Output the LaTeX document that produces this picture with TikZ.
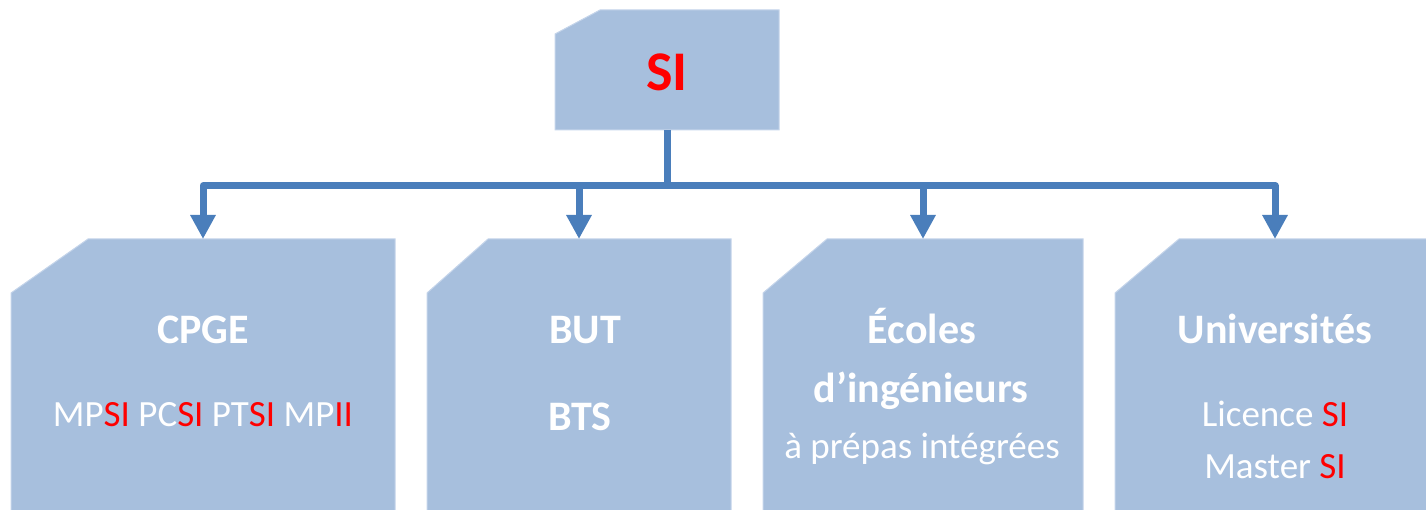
\documentclass[tikz,border=0pt]{standalone}
\usepackage{fontspec}
\setmainfont{Carlito}
\usetikzlibrary{arrows.meta}
\definecolor{boxfill}{HTML}{A7BFDD}
\definecolor{boxedge}{HTML}{C4D4EA}
\definecolor{connblue}{HTML}{4A7EBB}
\definecolor{sired}{HTML}{FF0000}
\newcommand\rd[1]{\textcolor{sired}{#1}}
\tikzset{
  frame/.style={inner sep=0pt, outer sep=0pt, anchor=north west},
  shade box/.style={fill=boxfill, draw=boxedge, line width=1pt},
  title/.style={font=\fontsize{42}{48}\selectfont\bfseries, text=white, anchor=base, inner sep=0pt},
  sub/.style={font=\fontsize{37}{42}\selectfont, text=white, anchor=base, inner sep=0pt},
  link/.style={draw=connblue, line width=7pt, line join=round},
  arrowlink/.style={link, -{Triangle[width=24pt,length=24pt]}},
}
\begin{document}
\begin{tikzpicture}[x=1pt,y=-1pt]
\useasboundingbox (0,0) rectangle (1426,510);
% frames
\node[frame, minimum width=224pt, minimum height=120pt] (si) at (555,10) {};
\node[frame, minimum width=384pt, minimum height=276pt] (b1) at (11,239) {};
\node[frame, minimum width=304pt, minimum height=276pt] (b2) at (427,239) {};
\node[frame, minimum width=320pt, minimum height=276pt] (b3) at (763,239) {};
\node[frame, minimum width=320pt, minimum height=276pt] (b4) at (1115,239) {};
% shapes with cut corner
\path[shade box] ([xshift=45pt]si.north west) -- (si.north east) -- (si.south east) -- (si.south west) -- ([yshift=-24pt]si.north west) -- cycle;
\path[shade box] ([xshift=77pt]b1.north west) -- (b1.north east) -- (b1.south east) -- (b1.south west) -- ([yshift=-54pt]b1.north west) -- cycle;
\path[shade box] ([xshift=61pt]b2.north west) -- (b2.north east) -- (b2.south east) -- (b2.south west) -- ([yshift=-54pt]b2.north west) -- cycle;
\path[shade box] ([xshift=64pt]b3.north west) -- (b3.north east) -- (b3.south east) -- (b3.south west) -- ([yshift=-54pt]b3.north west) -- cycle;
\path[shade box] ([xshift=64pt]b4.north west) -- (b4.north east) -- (b4.south east) -- (b4.south west) -- ([yshift=-54pt]b4.north west) -- cycle;
% connectors
\coordinate (bus) at (si.south |- 0,185.5);
\draw[link] (si.south) -- (bus);
\draw[arrowlink] (bus) -| (b1.north);
\draw[arrowlink] (bus) -| (b2.north);
\draw[arrowlink] (bus) -| (b3.north);
\draw[arrowlink] (bus) -| (b4.north);
% texts
\node[font=\fontsize{56}{66}\selectfont\bfseries, text=sired, anchor=base, inner sep=0pt] (sit) at (667,91) {SI};
\node[title] (cpge) at (203,343) {CPGE};
\node[sub] (cpgel) at (203,426) {MP\rd{SI} PC\rd{SI} PT\rd{SI} MP\rd{II}};
\node[title] (but) at (585,343) {BUT};
\node[title] (bts) at (580,430) {BTS};
\node[title] (ecoles) at (922,343) {Écoles};
\node[title] (ding) at (921,402) {d’ingénieurs};
\node[sub] (prepas) at (922,458) {à prépas intégrées};
\node[title] (univ) at (1275,343) {Universités};
\node[sub] (lic) at (1275,426) {Licence \rd{SI}};
\node[sub] (mast) at (1275,478) {Master \rd{SI}};
\end{tikzpicture}
\end{document}
